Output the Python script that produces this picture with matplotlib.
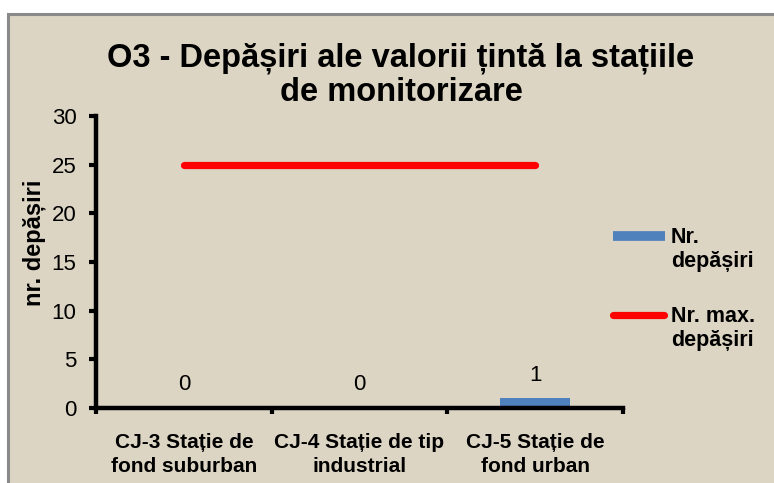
import matplotlib.pyplot as plt
from matplotlib.patches import Rectangle
from matplotlib.lines import Line2D

# data
stations = ['CJ-3 Stație de\nfond suburban', 'CJ-4 Stație de tip\nindustrial', 'CJ-5 Stație de\nfond urban']
nr_depasiri = [0, 0, 1]
nr_max_depasiri = [25, 25, 25]

plt.rcParams['font.family'] = ['Liberation Sans', 'DejaVu Sans']

bg = '#DDD5C3'
fig = plt.figure(figsize=(7.74, 4.83), dpi=100)
fig.patch.set_facecolor('white')
fig.add_artist(Rectangle((8 / 774, -0.01), 1.0, 1 - 14 / 483 + 0.01, transform=fig.transFigure,
                         facecolor=bg, edgecolor='#8A8A8A', linewidth=2.2, zorder=0))

ax = fig.add_axes([96 / 774, 1 - 408 / 483, (623 - 96) / 774, (408 - 116) / 483])
ax.set_facecolor('none')

x = list(range(len(stations)))
bars = ax.bar(x, nr_depasiri, width=0.4, color='#4F81BD', zorder=2)
ax.plot(x, nr_max_depasiri, color='#FF0000', linewidth=5.2, solid_capstyle='round', zorder=3)

for xi, v in zip(x, nr_depasiri):
    ax.annotate(str(v), (xi, v), xytext=(0, 9), textcoords='offset points',
                ha='center', va='bottom', fontsize=16)

ax.set_xlim(-0.5, 2.5)
ax.set_ylim(0, 30)
ax.set_yticks(range(0, 31, 5))
ax.set_xticks([-0.5, 0.5, 1.5, 2.5])
ax.set_xticklabels([])
ax.set_xticks(x, minor=True)
ax.set_xticklabels(stations, minor=True, fontsize=15, fontweight='bold', linespacing=1.35)
ax.tick_params(axis='x', which='minor', length=0, pad=18)
ax.tick_params(axis='x', which='major', length=4, width=3, direction='out')
ax.tick_params(axis='y', length=5, width=3, direction='out', labelsize=16, pad=9)

for side in ['top', 'right']:
    ax.spines[side].set_visible(False)
for side in ['left', 'bottom']:
    ax.spines[side].set_linewidth(3.2)
    ax.spines[side].set_color('black')

fig.text(401 / 774, 1 - 75 / 483, 'O3 - Depășiri ale valorii țintă la stațiile\nde monitorizare',
         ha='center', va='center', fontsize=23.5, fontweight='bold', linespacing=1.12)
fig.text(34 / 774, 1 - 243 / 483, 'nr. depășiri', rotation=90, ha='center', va='center',
         fontsize=17, fontweight='bold')

# legend
fig.add_artist(Line2D([613 / 774, 665 / 774], [1 - 236 / 483] * 2, transform=fig.transFigure,
                      color='#4F81BD', linewidth=7, solid_capstyle='butt'))
fig.text(671 / 774, 1 - 227 / 483, 'Nr.\ndepășiri', ha='left', va='top', fontsize=15.5,
         fontweight='bold', linespacing=1.2, transform=fig.transFigure)
fig.add_artist(Line2D([613 / 774, 664 / 774], [1 - 315 / 483] * 2, transform=fig.transFigure,
                      color='#FF0000', linewidth=5.2, solid_capstyle='round'))
fig.text(671 / 774, 1 - 306 / 483, 'Nr. max.\ndepășiri', ha='left', va='top', fontsize=15.5,
         fontweight='bold', linespacing=1.2, transform=fig.transFigure)

fig.savefig('out.png', dpi=100, facecolor='white')
